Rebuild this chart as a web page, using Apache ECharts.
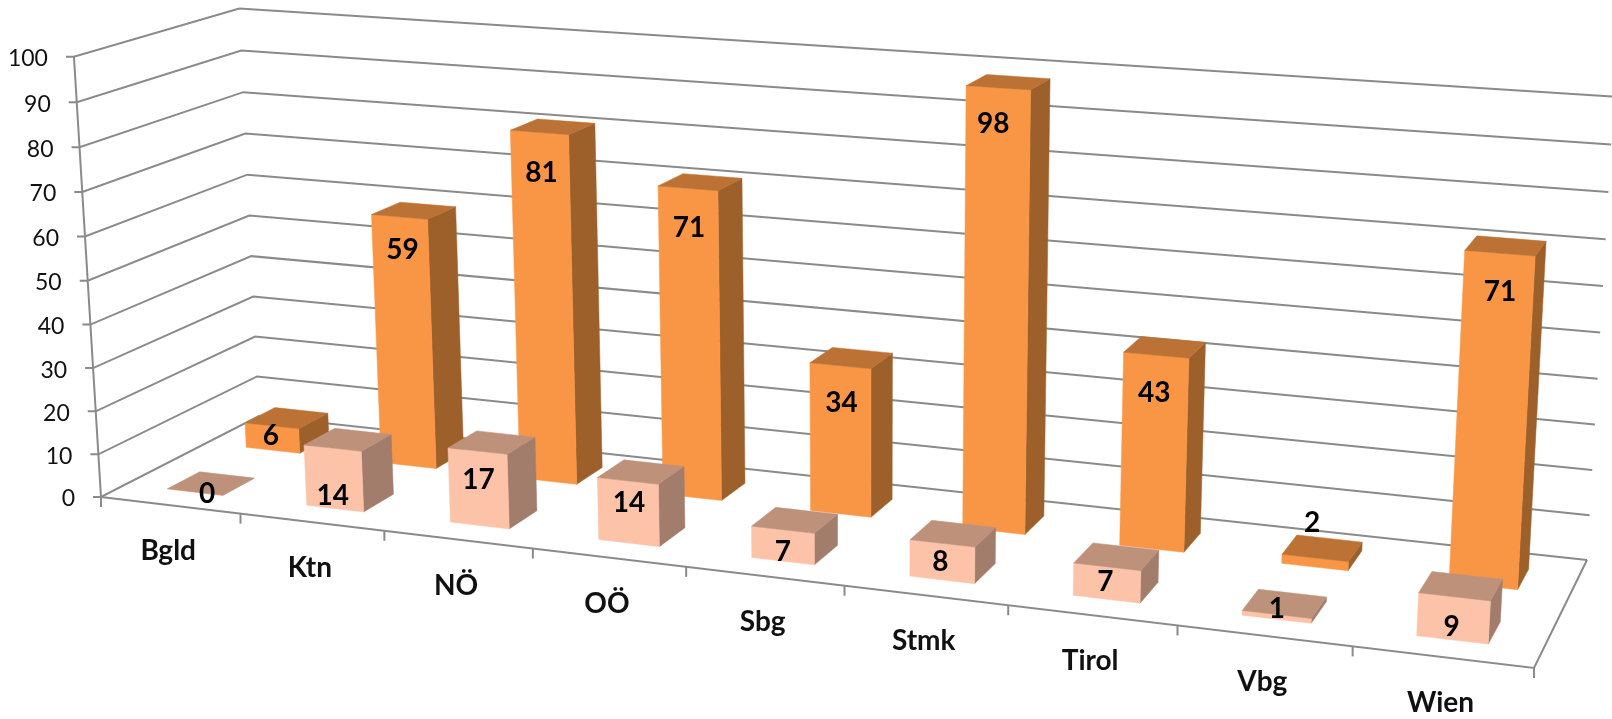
<!DOCTYPE html>
<html>
<head>
<meta charset="utf-8">
<style>html,body{margin:0;padding:0;background:#fff}#c{width:1612px;height:719px}</style>
<script src="https://cdn.jsdelivr.net/npm/echarts@6/dist/echarts.min.js"></script>
</head>
<body>
<div id="c"></div>
<script>
// ---- data ----
const categories = ['Bgld','Ktn','NÖ','OÖ','Sbg','Stmk','Tirol','Vbg','Wien'];
const backRow  = [6,59,81,71,34,98,43,2,71];
const frontRow = [0,14,17,14,7,8,7,1,9];
const yTicks = [0,10,20,30,40,50,60,70,80,90,100];

// ---- perspective layout (maps the hidden axes' plane onto the 3D box) ----
const floorQuad = [[101,497],[1534,668],[1587,560],[259,416]];   // front-left, front-right, back-right, back-left
const vanish = [867,12960];  // where the verticals converge
const riseK = 0.03412;       // strength of vertical perspective
const barU = 0.2;            // half width of a bar, in category bands
const rows = {front:[0.15,0.35], back:[0.65,0.85]};
const colors = {
  back:  {front:'#F99646', top:'#BB7234', side:'#9E602B'},
  front: {front:'#FCC3A9', top:'#BE917B', side:'#A27D6C'}
};
// label placement relative to the middle of the bar's front-face top edge
const labelNudgeBack  = [[-1,10],[3,33],[2,40],[1,40],[1,37],[-5,36],[-2,38],[-3,-35],[0,39]];
const labelNudgeFront = [[12,2],[0,48],[1,29],[1,22],[0,22],[-2,19],[-2,15],[0,-6],[-3,30]];

function quadMap(q){
  const [p0,p1,p2,p3]=q;
  const dx1=p1[0]-p2[0],dx2=p3[0]-p2[0],sx=p0[0]-p1[0]+p2[0]-p3[0];
  const dy1=p1[1]-p2[1],dy2=p3[1]-p2[1],sy=p0[1]-p1[1]+p2[1]-p3[1];
  const den=dx1*dy2-dx2*dy1;
  const g=(sx*dy2-dx2*sy)/den,h=(dx1*sy-sx*dy1)/den;
  const a=p1[0]-p0[0]+g*p1[0],b=p3[0]-p0[0]+h*p3[0],c=p0[0];
  const d=p1[1]-p0[1]+g*p1[1],e=p3[1]-p0[1]+h*p3[1],f=p0[1];
  return (u,v)=>[a*u+b*v+c, d*u+e*v+f, g*u+h*v+1];
}
const floorMap=quadMap(floorQuad);
// u: 0..1 across categories, d: 0..1 into the depth, v: 0..1 of value axis
function project(u,d,v){
  const a=floorMap(u,d), s=-riseK*v, w=a[2]+s;
  return [(a[0]+s*vanish[0])/w, (a[1]+s*vanish[1])/w];
}
// convert a data point to plane fractions through the hidden axes
function frac(params,api,cat,val){
  const cs=params.coordSys, p=api.coord([cat,val]);
  return [(p[0]-cs.x)/cs.width, 1-(p[1]-cs.y)/cs.height];
}
const lineStyle={stroke:'#8A8A8A',lineWidth:2,fill:null};
function poly(points){return {type:'polyline',shape:{points},style:Object.assign({},lineStyle),silent:true};}

function renderYTick(params,api){
  const f=frac(params,api,0,api.value(0)), v=f[1];
  const a=project(0,0,v), b=project(0,1,v), c=project(1,1,v);
  return {type:'group',children:[
    poly([[a[0]-8,a[1]],a,b,c]),
    {type:'text',x:a[0]-26,y:a[1]+2,style:{text:String(api.value(0)),font:'400 23px Lato',fill:'#111',textAlign:'right',textVerticalAlign:'middle'}}
  ]};
}
function renderCat(params,api){
  const i=api.value(0);
  const c=frac(params,api,i,0)[0], u0=c-0.5/categories.length;
  const mid=project(c,0,0), t=project(u0,0,0);
  const kids=[poly([t,[t[0],t[1]+10]]),
    {type:'text',x:mid[0]-2,y:mid[1]+46,style:{text:categories[i],font:'700 28px Lato',fill:'#111',textAlign:'center',textVerticalAlign:'middle'}}];
  if(i===categories.length-1){
    const e=project(1,0,0), o=project(0,0,0);
    kids.push(poly([[e[0],e[1]+10],e]));
    kids.push(poly([project(0,0,1),o,[o[0],o[1]+10]]));
    kids.push(poly([o,e,project(1,1,0)]));
  }
  return {type:'group',children:kids};
}
function bar3d(rowKey,nudges){
  const [d0,d1]=rows[rowKey], col=colors[rowKey];
  return function(params,api){
    const i=api.value(0), val=api.value(1);
    const c=frac(params,api,i,val), n=categories.length;
    const u0=c[0]-barU/n, u1=c[0]+barU/n, v=c[1];
    const fbl=project(u0,d0,0),fbr=project(u1,d0,0),ftl=project(u0,d0,v),ftr=project(u1,d0,v);
    const bbr=project(u1,d1,0),btr=project(u1,d1,v),btl=project(u0,d1,v);
    const pg=(pts,fill)=>({type:'polygon',shape:{points:pts},style:{fill,stroke:fill,lineWidth:0.5}});
    const nd=nudges[i];
    return {type:'group',children:[
      pg([fbr,bbr,btr,ftr],col.side),
      pg([fbl,fbr,ftr,ftl],col.front),
      pg([ftl,ftr,btr,btl],col.top),
      {type:'text',z2:10,x:(ftl[0]+ftr[0])/2+nd[0],y:(ftl[1]+ftr[1])/2+nd[1],
       style:{text:String(val),font:'700 28px Lato',fill:'#000',textAlign:'center',textVerticalAlign:'middle'}}
    ]};
  };
}
const chart=echarts.init(document.getElementById('c'),null,{renderer:'canvas'});
chart.setOption({
  animation:false,
  backgroundColor:'#fff',
  grid:{left:0,right:0,top:0,bottom:0},
  xAxis:{type:'category',data:categories,show:false},
  yAxis:{type:'value',min:0,max:100,interval:10,show:false},
  series:[
    {type:'custom',name:'ticks',z:1,silent:true,renderItem:renderYTick,data:yTicks.map(t=>[t]),encode:{x:[],y:0},clip:false},
    {type:'custom',name:'cats',z:2,silent:true,renderItem:renderCat,data:categories.map((c,i)=>[i]),encode:{x:0,y:[]},clip:false},
    {type:'custom',name:'back',z:3,silent:true,renderItem:bar3d('back',labelNudgeBack),data:backRow.map((v,i)=>[i,v]),encode:{x:0,y:1},clip:false},
    {type:'custom',name:'front',z:4,silent:true,renderItem:bar3d('front',labelNudgeFront),data:frontRow.map((v,i)=>[i,v]),encode:{x:0,y:1},clip:false}
  ]
});
</script>
</body>
</html>
